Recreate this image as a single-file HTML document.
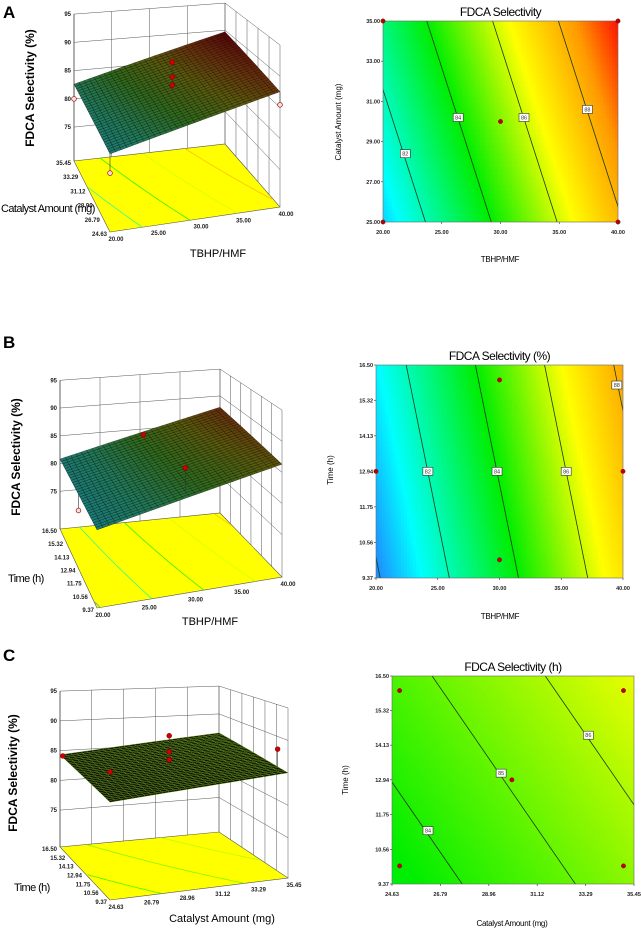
<!DOCTYPE html>
<html><head><meta charset="utf-8">
<style>
html,body{margin:0;padding:0;background:#fff;}
svg{display:block;font-family:"Liberation Sans",Arial,sans-serif;}
</style></head>
<body>
<svg id="chart" width="641" height="931" viewBox="0 0 641 931" xmlns="http://www.w3.org/2000/svg">
<text x="3" y="18" font-size="17" font-weight="bold">A</text>
<text x="3" y="348" font-size="17" font-weight="bold">B</text>
<text x="3" y="661" font-size="17" font-weight="bold">C</text>
</svg>
<script>
// ---------- data ----------
const zTicks = [75, 80, 85, 90, 95];
const tbhpTicks = [20, 25, 30, 35, 40];
const tbhpLabels = ["20.00", "25.00", "30.00", "35.00", "40.00"];
const catTicks = [24.63, 26.79, 28.96, 31.12, 33.29, 35.45];
const catLabels = ["24.63", "26.79", "28.96", "31.12", "33.29", "35.45"];
const catTicksA = [25, 27, 29, 31, 33, 35];
const catLabelsA = ["25.00", "27.00", "29.00", "31.00", "33.00", "35.00"];
const timeTicks = [9.37, 10.56, 11.75, 12.94, 14.13, 15.32, 16.50];
const timeLabels = ["9.37", "10.56", "11.75", "12.94", "14.13", "15.32", "16.50"];

// 3D surfaces: corner values [front-left, front-right, back-left, back-right]
const surfA = [81.2, 87.5, 82.6, 89.7];
const surfB = [80.4, 86.3, 80.8, 87.9];
const surfC = [83.4, 85.0, 84.3, 86.6];
// 3D design points
const ptsAx = [30, 30, 30, 20, 40, 20];
const ptsAy = [30.04, 30.04, 30.04, 35.45, 24.63, 24.63];
const ptsAz = [89.9, 87.4, 86.0, 80.0, 85.4, 78.2];
const ptsAhollow = [0, 0, 0, 1, 1, 1];
const ptsBx = [30, 30, 20];
const ptsBy = [16.0, 9.98, 12.94];
const ptsBz = [84.7, 87.2, 77.9];
const ptsBhollow = [0, 0, 1];
const ptsCx = [30.04, 30.04, 30.04, 24.63, 26.25, 35.45];
const ptsCy = [12.94, 12.94, 12.94, 16.1, 12.94, 10.44];
const ptsCz = [89.6, 87.0, 85.7, 84.5, 84.5, 88.0];
const ptsChollow = [0, 0, 0, 0, 0, 0];

// contour models z = a + b*x + c*y
const coefA = [68.67, 0.357, 0.196];
const coefB = [71.1, 0.357, 0.175];
const coefC = [76.85, 0.1976, 0.1775];
const levelsA = [82, 84, 86, 88];
const levelsB = [80, 82, 84, 86, 88];
const levelsC = [84, 85, 86];
const lblAx = [21.9, 26.4, 32.0, 37.4], lblAy = [28.4, 30.2, 30.2, 30.6], lblAt = ["82", "84", "86", "88"];
const lblBx = [24.2, 29.8, 35.4, 39.5], lblBy = [12.94, 12.94, 12.94, 15.83], lblBt = ["82", "84", "86", "88"];
const lblCx = [26.24, 29.51, 33.41], lblCy = [11.2, 13.17, 14.47], lblCt = ["84", "85", "86"];
const cptAx = [20, 40, 20, 40, 30], cptAy = [35, 35, 25, 25, 30];
const cptBx = [30, 20, 40, 30], cptBy = [16.0, 12.94, 12.94, 9.98];
const cptCx = [24.97, 34.98, 24.97, 34.98, 29.99], cptCy = [16.0, 16.0, 9.99, 9.99, 12.94];

// ---------- helpers ----------
const NS = 'http://www.w3.org/2000/svg';
const svg = document.getElementById('chart');
function mk(tag, attrs, parent) {
  const e = document.createElementNS(NS, tag);
  for (const k in attrs) e.setAttribute(k, attrs[k]);
  (parent || svg).appendChild(e);
  return e;
}
function hex(c){return [parseInt(c.slice(1,3),16),parseInt(c.slice(3,5),16),parseInt(c.slice(5,7),16)];}
function cmap(stops, t) {
  t = Math.max(0, Math.min(1, t));
  for (let i = 1; i < stops.length; i++) {
    if (t <= stops[i][0]) {
      const a = stops[i-1], b = stops[i], f = (t - a[0]) / (b[0] - a[0]);
      const ca = hex(a[1]), cb = hex(b[1]);
      return 'rgb(' + ca.map((v, j) => Math.round(v + (cb[j] - v) * f)).join(',') + ')';
    }
  }
  return stops[stops.length-1][1];
}
const contourStops = [[0,'#1e90ff'],[0.12,'#00ffff'],[0.4,'#00ee00'],[0.65,'#ffff00'],[0.85,'#ff9900'],[1,'#ff0000']];
const surfStops = [[0,'#147a8a'],[0.25,'#1f7a5a'],[0.45,'#2f6a1a'],[0.65,'#5a5a0a'],[0.82,'#6a300a'],[1,'#5a0505']];
const surfStopsC = [[0,'#0c1400'],[1,'#142000']];

// ---------- 3D panels ----------
function draw3D(g, name) {
  const grp = mk('g', {});
  
  
  const bil = (arr, u, v) => arr[0]*(1-u)*(1-v) + arr[1]*u*(1-v) + arr[2]*(1-u)*v + arr[3]*u*v;
  const P = (u, v, z) => {
    const x = bil([g.FL[0], g.FR[0], g.BL[0], g.BR[0]], u, v);
    const y = bil([g.FL[1], g.FR[1], g.BL[1], g.BR[1]], u, v);
    const k = bil(g.K, u, v);
    return [x, y - (z - g.zf) * k];
  };
  const U = x => (x - g.xmin) / (g.xmax - g.xmin);
  const V = y => (y - g.ymin) / (g.ymax - g.ymin);
  const fl = [P(0,0,g.zf), P(1,0,g.zf), P(1,1,g.zf), P(0,1,g.zf)];
  const floor = mk('polygon', {points: fl.map(p => p.join(',')).join(' '), fill: '#ffff00', stroke: '#555', 'stroke-width': 0.6}, grp);
  
  
  g.levels.forEach(L => {
    const pts = [];
    for (let i = 0; i <= 40; i++) {
      const y = g.ymin + (g.ymax - g.ymin) * i / 40;
      const x = (L - g.coef[0] - g.coef[2] * y) / g.coef[1];
      if (x >= g.xmin && x <= g.xmax) pts.push(P(U(x), V(y), g.zf));
    }
    if (pts.length > 1) {
      const ln = mk('polyline', {points: pts.map(p => p.join(',')).join(' '), fill: 'none', stroke: cmap(contourStops, (L - g.dom[0]) / (g.dom[1] - g.dom[0])), 'stroke-width': 0.8, opacity: 0.8}, grp);
      
      
    }
  });
  const wallStroke = {stroke: '#555', 'stroke-width': 0.5, fill: 'none'};
  zTicks.forEach(z => {
    const a = P(0,1,z), b = P(1,1,z), c = P(1,0,z);
    const l = mk('polyline', Object.assign({points: [a,b,c].map(p => p.join(',')).join(' ')}, wallStroke), grp);
    
    
  });
  g.xTicks.forEach(x => {
    const a = P(U(x),1,g.zf), b = P(U(x),1,g.ztop);
    const l = mk('line', Object.assign({x1:a[0],y1:a[1],x2:b[0],y2:b[1]}, wallStroke), grp);
    
    
  });
  g.yTicks.forEach(y => {
    const a = P(1,V(y),g.zf), b = P(1,V(y),g.ztop);
    const l = mk('line', Object.assign({x1:a[0],y1:a[1],x2:b[0],y2:b[1]}, wallStroke), grp);
    
    
  });
  const ax0 = P(0,1,g.zf), ax1 = P(0,1,g.ztop);
  const zAxis = mk('line', {x1:ax0[0],y1:ax0[1],x2:ax1[0],y2:ax1[1],stroke:'#444','stroke-width':0.7}, grp);
  
  
  zTicks.forEach(z => {
    const p = P(0,1,z);
    const t = mk('text', {x: p[0]-3, y: p[1]+2, 'font-size': 6, 'font-weight': 'bold', 'text-anchor': 'end', fill: '#222'}, grp);
    t.textContent = String(z);
    
    
  });
  const N = 30, s = g.surf;
  for (let i = 0; i < N; i++) for (let j = 0; j < N; j++) {
    const u0 = i/N, u1 = (i+1)/N, v0 = j/N, v1 = (j+1)/N;
    const zc = bil(s, (u0+u1)/2, (v0+v1)/2);
    const q = [P(u0,v0,bil(s,u0,v0)), P(u1,v0,bil(s,u1,v0)), P(u1,v1,bil(s,u1,v1)), P(u0,v1,bil(s,u0,v1))];
    const fill = cmap(g.sstops, (zc - g.sdom[0]) / (g.sdom[1] - g.sdom[0]));
    const c = mk('polygon', {points: q.map(p => p.map(n => n.toFixed(1)).join(',')).join(' '), fill: fill, stroke: g.mesh, 'stroke-width': 0.5}, grp);
    
    
  }
  g.px.forEach((x, i) => {
    const u = U(x), v = V(g.py[i]);
    const p = P(u, v, g.pz[i]), q = P(u, v, bil(s, u, v));
    const st = mk('line', {x1:p[0],y1:p[1],x2:q[0],y2:q[1],stroke:'#333','stroke-width':0.6}, grp);
    
    
    const c = mk('circle', {cx:p[0], cy:p[1], r: 2.4, fill: g.ph[i] ? '#ffd8d8' : '#d00000', stroke: '#800', 'stroke-width': 0.6}, grp);
    
    
  });
  g.xTicks.forEach((x, i) => {
    const p = P(U(x), 0, g.zf);
    const t = mk('text', {x: p[0]+6, y: p[1]+9, 'font-size': 6, 'font-weight': 'bold', 'text-anchor': 'middle', fill: '#222'}, grp);
    t.textContent = g.xLabels[i];
    
    
  });
  g.yTicks.forEach((y, i) => {
    const p = P(0, V(y), g.zf);
    const t = mk('text', {x: p[0]-3, y: p[1]+4, 'font-size': 6, 'font-weight': 'bold', 'text-anchor': 'end', fill: '#222'}, grp);
    t.textContent = g.yLabels[i];
    
    
  });
  const zt = mk('text', {x: 0, y: 0, 'font-size': 12, 'font-weight': 'bold', 'text-anchor': 'middle', transform: 'translate(' + g.zt[0] + ',' + g.zt[1] + ') rotate(-90)'}, grp);
  zt.textContent = 'FDCA Selectivity (%)';
  
  
  const xt = mk('text', {x: g.xt[0], y: g.xt[1], 'font-size': 11, 'text-anchor': 'middle'}, grp);
  xt.textContent = g.xTitle;
  
  
  const yt = mk('text', {x: g.yt[0], y: g.yt[1], 'font-size': 11, 'text-anchor': 'start', 'letter-spacing': -0.6}, grp);
  yt.textContent = g.yTitle;
  
  
}

draw3D({FL:[110,232], FR:[280,207], BL:[74,161], BR:[225,144], K:[6.4,6.23,5.65,5.42], zf:69, ztop:95,
  xmin:20, xmax:40, ymin:24.63, ymax:35.45, xTicks:tbhpTicks, xLabels:tbhpLabels, yTicks:catTicks, yLabels:catLabels,
  surf:surfA, sstops:surfStops, sdom:[80,89.5], mesh:'rgba(0,0,0,0.55)', coef:coefA, levels:[80,82,84,86,88], dom:[80,90],
  px:ptsAx, py:ptsAy, pz:ptsAz, ph:ptsAhollow, zt:[34,88], xt:[218,257], xTitle:'TBHP/HMF', yt:[1,212], yTitle:'Catalyst Amount (mg)'}, 'surface-plot-a');
draw3D({FL:[97,608], FR:[282,577], BL:[60,529], BR:[220,513], K:[6.4,6.23,5.55,5.37], zf:68.2, ztop:95,
  xmin:20, xmax:40, ymin:9.37, ymax:16.5, xTicks:tbhpTicks, xLabels:tbhpLabels, yTicks:timeTicks, yLabels:timeLabels,
  surf:surfB, sstops:surfStops, sdom:[79.5,89.5], mesh:'rgba(0,0,0,0.55)', coef:coefB, levels:[80,82,84,86,88], dom:[80,90],
  px:ptsBx, py:ptsBy, pz:ptsBz, ph:ptsBhollow, zt:[20,457], xt:[210,625], xTitle:'TBHP/HMF', yt:[8,582], yTitle:'Time (h)'}, 'surface-plot-b');
draw3D({FL:[110,900], FR:[288,878], BL:[60,847], BR:[219,832], K:[6.7,6.49,5.95,5.57], zf:68.8, ztop:95,
  xmin:24.63, xmax:35.45, ymin:9.37, ymax:16.5, xTicks:catTicks, xLabels:catLabels, yTicks:timeTicks, yLabels:timeLabels,
  surf:surfC, sstops:surfStopsC, sdom:[83,87], mesh:'rgba(120,170,40,0.6)', coef:coefC, levels:[84,85,86], dom:[78,92],
  px:ptsCx, py:ptsCy, pz:ptsCz, ph:ptsChollow, zt:[17,773], xt:[222,922], xTitle:'Catalyst Amount (mg)', yt:[14,891], yTitle:'Time (h)'}, 'surface-plot-c');

// ---------- contour panels ----------
let clipId = 0;
function drawContour(c, name) {
  const grp = mk('g', {});
  
  
  const X = x => c.x0 + (x - c.xmin) / (c.xmax - c.xmin) * (c.x1 - c.x0);
  const Y = y => c.y1 - (y - c.ymin) / (c.ymax - c.ymin) * (c.y1 - c.y0);
  const f = (x, y) => c.coef[0] + c.coef[1]*x + c.coef[2]*y;
  const id = 'clip' + (clipId++);
  const cp = mk('clipPath', {id: id}, grp);
  mk('rect', {x: c.x0, y: c.y0, width: c.x1 - c.x0, height: c.y1 - c.y0}, cp);
  const fillG = mk('g', {'clip-path': 'url(#' + id + ')'}, grp);
  
  
  const NX = 80, NY = 50;
  for (let i = 0; i < NX; i++) for (let j = 0; j < NY; j++) {
    const xv = c.xmin + (i + 0.5) / NX * (c.xmax - c.xmin);
    const yv = c.ymin + (j + 0.5) / NY * (c.ymax - c.ymin);
    const col = cmap(contourStops, (f(xv, yv) - c.dom[0]) / (c.dom[1] - c.dom[0]));
    const px = c.x0 + i / NX * (c.x1 - c.x0), py = c.y1 - (j + 1) / NY * (c.y1 - c.y0);
    mk('rect', {x: px.toFixed(2), y: py.toFixed(2), width: ((c.x1 - c.x0) / NX + 0.4).toFixed(2), height: ((c.y1 - c.y0) / NY + 0.4).toFixed(2), fill: col}, fillG);
  }
  c.levels.forEach(L => {
    const xa = (L - c.coef[0] - c.coef[2]*c.ymin) / c.coef[1];
    const xb = (L - c.coef[0] - c.coef[2]*c.ymax) / c.coef[1];
    const ln = mk('line', {x1: X(xa), y1: Y(c.ymin), x2: X(xb), y2: Y(c.ymax), stroke: '#1a3a1a', 'stroke-width': 0.8}, fillG);
    
    
  });
  const frame = mk('rect', {x: c.x0, y: c.y0, width: c.x1 - c.x0, height: c.y1 - c.y0, fill: 'none', stroke: '#666', 'stroke-width': 0.6}, grp);
  
  
  c.lx.forEach((x, i) => {
    const b = mk('rect', {x: X(x) - 5, y: Y(c.ly[i]) - 4, width: 10, height: 8, fill: '#fff', stroke: '#333', 'stroke-width': 0.6}, grp);
    
    
    const t = mk('text', {x: X(x), y: Y(c.ly[i]) + 2, 'font-size': 5.5, 'text-anchor': 'middle', fill: '#333'}, grp);
    t.textContent = c.lt[i];
    
    
  });
  c.px.forEach((x, i) => {
    const d = mk('circle', {cx: X(x), cy: Y(c.py[i]), r: 2.2, fill: '#c00000', stroke: '#700', 'stroke-width': 0.4}, grp);
    
    
  });
  c.xTicks.forEach((x, i) => {
    const tk = mk('line', {x1: X(x), y1: c.y1, x2: X(x), y2: c.y1 + 2, stroke: '#333', 'stroke-width': 0.6}, grp);
    
    
    const t = mk('text', {x: X(x), y: c.y1 + 12, 'font-size': 5.5, 'font-weight': 'bold', 'text-anchor': 'middle', fill: '#222'}, grp);
    t.textContent = c.xLabels[i];
    
    
  });
  c.yTicks.forEach((y, i) => {
    const tk = mk('line', {x1: c.x0 - 2, y1: Y(y), x2: c.x0, y2: Y(y), stroke: '#333', 'stroke-width': 0.6}, grp);
    
    
    const t = mk('text', {x: c.x0 - 3, y: Y(y) + 2, 'font-size': 5.5, 'font-weight': 'bold', 'text-anchor': 'end', fill: '#222'}, grp);
    t.textContent = c.yLabels[i];
    
    
  });
  const ti = mk('text', {x: (c.x0 + c.x1) / 2, y: c.y0 - 5, 'font-size': 12, 'text-anchor': 'middle', 'letter-spacing': -0.5}, grp);
  ti.textContent = c.title;
  
  
  const xt = mk('text', {x: c.xt[0], y: c.xt[1], 'font-size': 8, 'text-anchor': 'middle', 'letter-spacing': -0.3}, grp);
  xt.textContent = c.xTitle;
  
  
  const yt = mk('text', {x: 0, y: 0, 'font-size': 8, 'text-anchor': 'middle', transform: 'translate(' + c.yt[0] + ',' + c.yt[1] + ') rotate(-90)'}, grp);
  yt.textContent = c.yTitle;
  
  
}

drawContour({x0:383, x1:618, y0:21, y1:222, xmin:20, xmax:40, ymin:25, ymax:35, coef:coefA, dom:[80,90], levels:levelsA,
  lx:lblAx, ly:lblAy, lt:lblAt, px:cptAx, py:cptAy, xTicks:tbhpTicks, xLabels:tbhpLabels, yTicks:catTicksA, yLabels:catLabelsA,
  title:'FDCA Selectivity', xTitle:'TBHP/HMF', xt:[500,262], yTitle:'Catalyst Amount (mg)', yt:[341,122]}, 'contour-plot-a');
drawContour({x0:376, x1:623, y0:365, y1:578, xmin:20, xmax:40, ymin:9.37, ymax:16.5, coef:coefB, dom:[80,90], levels:levelsB,
  lx:lblBx, ly:lblBy, lt:lblBt, px:cptBx, py:cptBy, xTicks:tbhpTicks, xLabels:tbhpLabels, yTicks:timeTicks, yLabels:timeLabels,
  title:'FDCA Selectivity (%)', xTitle:'TBHP/HMF', xt:[500,619], yTitle:'Time (h)', yt:[333,470]}, 'contour-plot-b');
drawContour({x0:392, x1:634, y0:676, y1:884, xmin:24.63, xmax:35.45, ymin:9.37, ymax:16.5, coef:coefC, dom:[78,92], levels:levelsC,
  lx:lblCx, ly:lblCy, lt:lblCt, px:cptCx, py:cptCy, xTicks:catTicks, xLabels:catLabels, yTicks:timeTicks, yLabels:timeLabels,
  title:'FDCA Selectivity (h)', xTitle:'Catalyst Amount (mg)', xt:[512,926], yTitle:'Time (h)', yt:[348,780]}, 'contour-plot-c');
</script>
</body></html>
